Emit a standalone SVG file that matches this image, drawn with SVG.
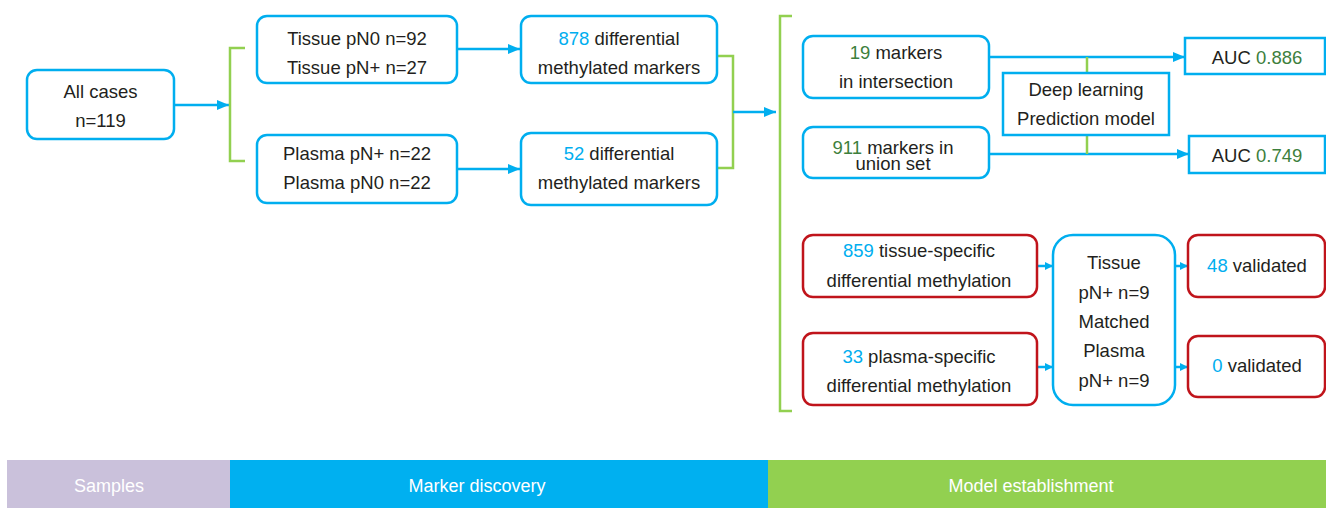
<svg xmlns="http://www.w3.org/2000/svg" width="1326" height="508" viewBox="0 0 1326 508">
<defs>
<style>
text{font-family:"Liberation Sans",Arial,Helvetica,sans-serif;font-size:18.5px;fill:#231f20;text-anchor:middle}
.b{fill:#00aeef}
.g{fill:#3d7f3d}
.nb{fill:#fff;stroke:#00aeef;stroke-width:2.5}
.nr{fill:#fff;stroke:#c0141b;stroke-width:2.5}
.c{fill:none;stroke:#00aeef;stroke-width:2.5}
.k{fill:none;stroke:#92d050;stroke-width:2.5}
.bar{font-size:18px;fill:#ffffff}
</style>
<marker id="a" markerUnits="userSpaceOnUse" markerWidth="12" markerHeight="10" refX="12" refY="5" orient="auto"><path d="M0,0 L12,5 L0,10 Z" fill="#00aeef"/></marker>
<marker id="s" markerUnits="userSpaceOnUse" markerWidth="8" markerHeight="8" refX="8" refY="4" orient="auto"><path d="M0,0 L8,4 L0,8 Z" fill="#00aeef"/></marker>
</defs>
<g id="connectors">
<line class="c" x1="174" y1="105" x2="229" y2="105" marker-end="url(#a)"/>
<path class="k" d="M245,48 H230 V161 H245"/>
<line class="c" x1="457" y1="49" x2="520" y2="49" marker-end="url(#a)"/>
<line class="c" x1="457" y1="169" x2="520" y2="169" marker-end="url(#a)"/>
<path class="k" d="M717,56 H733 V168 H717"/>
<line class="c" x1="733" y1="112" x2="776" y2="112" marker-end="url(#a)"/>
<path class="k" d="M792,16 H780 V411 H792"/>
<line class="c" x1="989" y1="57" x2="1185" y2="57" marker-end="url(#a)"/>
<line class="c" x1="989" y1="154" x2="1189" y2="154" marker-end="url(#a)"/>
<line class="k" x1="1087" y1="57" x2="1087" y2="73"/>
<line class="k" x1="1087" y1="135" x2="1087" y2="154"/>
<line class="c" x1="1037" y1="266" x2="1053" y2="266" marker-end="url(#s)"/>
<line class="c" x1="1037" y1="367" x2="1053" y2="367" marker-end="url(#s)"/>
<line class="c" x1="1175" y1="266" x2="1188" y2="266" marker-end="url(#s)"/>
<line class="c" x1="1175" y1="367" x2="1188" y2="367" marker-end="url(#s)"/>
</g>
<g id="all-cases"><rect class="nb" x="27" y="70" width="147" height="69" rx="10"/><text x="100.5" y="98">All cases</text><text x="100.5" y="127">n=119</text></g>
<g id="tissue"><rect class="nb" x="257" y="16" width="200" height="67" rx="10"/><text x="357" y="45">Tissue pN0 n=92</text><text x="357" y="74">Tissue pN+ n=27</text></g>
<g id="plasma"><rect class="nb" x="257" y="135" width="200" height="68" rx="10"/><text x="357" y="160">Plasma pN+ n=22</text><text x="357" y="189">Plasma pN0 n=22</text></g>
<g id="m878"><rect class="nb" x="521" y="16" width="196" height="67" rx="10"/><text x="619" y="45"><tspan class="b">878</tspan> differential</text><text x="619" y="74">methylated markers</text></g>
<g id="m52"><rect class="nb" x="521" y="133" width="196" height="72" rx="10"/><text x="619" y="160"><tspan class="b">52</tspan> differential</text><text x="619" y="189">methylated markers</text></g>
<g id="m19"><rect class="nb" x="803" y="36" width="186" height="62" rx="10"/><text x="896" y="59"><tspan class="g">19</tspan> markers</text><text x="896" y="88">in intersection</text></g>
<g id="m911"><rect class="nb" x="803" y="127" width="186" height="51" rx="10"/><text x="893" y="154"><tspan class="g">911</tspan> markers in</text><text x="893" y="170">union set</text></g>
<g id="deep"><rect class="nb" x="1003" y="73" width="166" height="62"/><text x="1086" y="96">Deep learning</text><text x="1086" y="125">Prediction model</text></g>
<g id="auc1"><rect class="nb" x="1185" y="38" width="140" height="36"/><text x="1257" y="64">AUC <tspan class="g">0.886</tspan></text></g>
<g id="auc2"><rect class="nb" x="1189" y="136" width="136" height="37"/><text x="1257" y="162">AUC <tspan class="g">0.749</tspan></text></g>
<g id="m859"><rect class="nr" x="803" y="235" width="234" height="62" rx="10"/><text x="919" y="257"><tspan class="b">859</tspan> tissue-specific</text><text x="919" y="287">differential methylation</text></g>
<g id="m33"><rect class="nr" x="803" y="333" width="234" height="72" rx="10"/><text x="919" y="363"><tspan class="b">33</tspan> plasma-specific</text><text x="919" y="392">differential methylation</text></g>
<g id="matched"><rect class="nb" x="1053" y="235" width="122" height="170" rx="20"/><text x="1114" y="269">Tissue</text><text x="1114" y="299">pN+ n=9</text><text x="1114" y="328">Matched</text><text x="1114" y="357">Plasma</text><text x="1114" y="387">pN+ n=9</text></g>
<g id="v48"><rect class="nr" x="1188" y="235" width="137" height="62" rx="10"/><text x="1257" y="272"><tspan class="b">48</tspan> validated</text></g>
<g id="v0"><rect class="nr" x="1188" y="336" width="137" height="61" rx="10"/><text x="1257" y="372"><tspan class="b">0</tspan> validated</text></g>
<g id="stages">
<rect x="7" y="460" width="223" height="48" fill="#cac1db"/>
<rect x="230" y="460" width="538" height="48" fill="#00b0f0"/>
<rect x="768" y="460" width="558" height="48" fill="#92d050"/>
<text class="bar" x="109" y="492">Samples</text>
<text class="bar" x="477" y="492">Marker discovery</text>
<text class="bar" x="1031" y="492">Model establishment</text>
</g>
</svg>
